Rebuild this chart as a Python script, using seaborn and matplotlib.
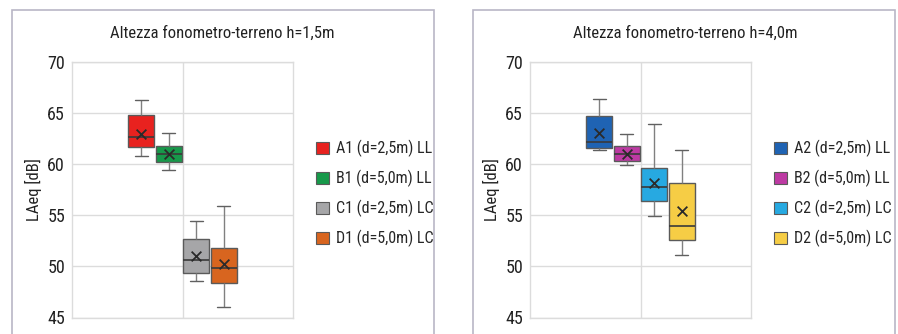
import pandas as pd
import matplotlib.pyplot as plt
import seaborn as sns
from matplotlib.patches import Rectangle
from matplotlib import font_manager

# ------------------------------
# DATA
# five-number summary: lower whisker, Q1, median, Q3, upper whisker
# ------------------------------
labels_15 = ["A1 (d=2,5m) LL", "B1 (d=5,0m) LL", "C1 (d=2,5m) LC", "D1 (d=5,0m) LC"]
a1 = [60.8, 61.7, 62.7, 64.8, 66.3]
b1 = [59.4, 60.2, 61.0, 61.8, 63.1]
c1 = [48.6, 49.4, 50.6, 52.7, 54.4]
d1 = [46.0, 48.4, 49.8, 51.8, 55.9]
means_15 = [63.0, 61.0, 51.0, 50.2]

labels_40 = ["A2 (d=2,5m) LL", "B2 (d=5,0m) LL", "C2 (d=2,5m) LC", "D2 (d=5,0m) LC"]
a2 = [61.4, 61.6, 62.2, 64.7, 66.4]
b2 = [59.9, 60.3, 61.0, 61.8, 63.0]
c2 = [54.9, 56.4, 57.8, 59.6, 63.9]
d2 = [51.1, 52.6, 54.0, 58.2, 61.4]
means_40 = [63.1, 61.0, 58.2, 55.4]

colors_15 = ["#e8221f", "#17994a", "#a6a6a8", "#d8651f"]
colors_40 = ["#1f63b3", "#bd3aa3", "#27a9e1", "#f6cd45"]

titles = ["Altezza fonometro-terreno h=1,5m", "Altezza fonometro-terreno h=4,0m"]


def long_table(labels, series):
    rows = []
    for lab, vals in zip(labels, series):
        for v in vals:
            rows.append({"g": "", "serie": lab, "LAeq": v})
    return pd.DataFrame(rows)


sns.set_style("white")
# narrow font if one is around, else condensed DejaVu
names = {f.name for f in font_manager.fontManager.ttflist}
narrow = [n for n in ["Liberation Sans Narrow", "Roboto Condensed", "Open Sans Condensed"] if n in names]
plt.rcParams["font.family"] = narrow + ["DejaVu Sans"]
plt.rcParams["font.stretch"] = "condensed"

fig = plt.figure(figsize=(8.98, 3.34), dpi=100)

# panel frames
for x0, x1 in [(12, 434), (473, 895)]:
    fig.patches.append(Rectangle((x0 / 898, -0.1), (x1 - x0) / 898, (334 - 10) / 334 + 0.1,
                                 transform=fig.transFigure, fill=False,
                                 edgecolor="#b9b6c6", linewidth=1.2))

panels = [
    (72, labels_15, [a1, b1, c1, d1], means_15, colors_15, titles[0], 222),
    (530, labels_40, [a2, b2, c2, d2], means_40, colors_40, titles[1], 685),
]

for left, labels, series, means, colors, title, tx in panels:
    ax = fig.add_axes([left / 898, 16.5 / 334, 221 / 898, 255.5 / 334])
    data = long_table(labels, series)
    pal = dict(zip(labels, colors))

    sns.boxplot(data=data, x="g", y="LAeq", hue="serie", hue_order=labels,
                palette=pal, width=0.8, gap=0.06, whis=(0, 100), ax=ax,
                linecolor="#5a5a5a", linewidth=1.0, saturation=1,
                medianprops={"color": "#3a3a3a", "linewidth": 1.2},
                whiskerprops={"color": "#808080"},
                capprops={"color": "#606060"})

    mean_df = pd.DataFrame({"g": "", "serie": labels, "LAeq": means})
    sns.stripplot(data=mean_df, x="g", y="LAeq", hue="serie", hue_order=labels,
                  palette=["#2a2a2a"] * 4, dodge=True, jitter=False, marker="x",
                  size=7, linewidth=1.3, legend=False, ax=ax)

    ax.set_xlim(-0.8, 0.8)
    ax.set_ylim(45, 70)
    ax.set_yticks([45, 50, 55, 60, 65, 70])
    ax.grid(axis="y", color="#dcdcdc", linewidth=1)
    ax.grid(axis="x", color="#dcdcdc", linewidth=1)
    ax.set_xticks([0])
    ax.set_xticklabels([])
    ax.set_xlabel("")
    ax.set_ylabel("LAeq [dB]", fontsize=12, color="#222222", labelpad=4)
    ax.tick_params(axis="both", length=0, labelsize=13, labelcolor="#222222", pad=5)
    for s in ax.spines.values():
        s.set_color("#dcdcdc")
        s.set_linewidth(1)

    handles = [Rectangle((0, 0), 1, 1, facecolor=c, edgecolor="#5a5a5a", linewidth=0.8)
               for c in colors]
    ax.legend(handles, labels, loc="upper left", bbox_to_anchor=(1.075, 0.72),
              frameon=False, fontsize=11.5, handlelength=0.8, handleheight=0.8,
              handletextpad=0.45, labelspacing=0.8, borderaxespad=0)

    fig.text(tx / 898, 1 - 33 / 334, title, ha="center", va="center",
             fontsize=12, color="#222222")

fig.savefig("out.png", dpi=100)
